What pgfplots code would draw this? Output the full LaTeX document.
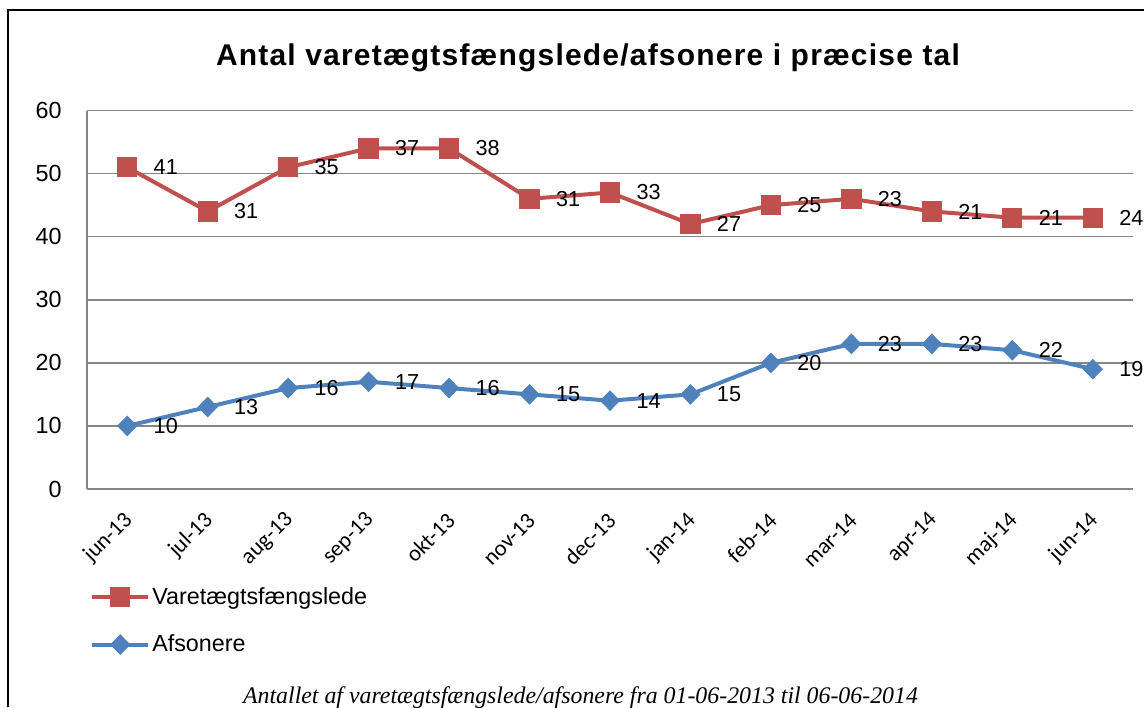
\documentclass[border=0pt]{standalone}
\usepackage{fontspec}
\setmainfont{Liberation Sans}
\newfontfamily\titlefont[LetterSpace=4.0]{Liberation Sans}
\newfontfamily\carlito{Carlito}
\newfontfamily\capfont{Liberation Serif}
\usepackage{pgfplots}
\usepackage{pgfplotstable}
\pgfplotsset{compat=1.18}
\definecolor{cred}{HTML}{C0504D}
\definecolor{cblue}{HTML}{4F81BD}
\definecolor{cgrid}{HTML}{868686}

% afs = Afsonere, vsum = stacked position (Afsonere + Varetaegtsfaengslede), vlbl = Varetaegtsfaengslede
\pgfplotstableread{
x afs vsum vlbl
0 10 51 41
1 13 44 31
2 16 51 35
3 17 54 37
4 16 54 38
5 15 46 31
6 14 47 33
7 15 42 27
8 20 45 25
9 23 46 23
10 23 44 21
11 22 43 21
12 19 43 24
}\data

\begin{document}
\begin{tikzpicture}[x=1pt,y=1pt]
\clip (0,0) rectangle (686.4,424.2);
\path[use as bounding box] (0,0) rectangle (686.4,424.2);
\draw[line width=1.2pt] (4.8,0) -- (4.8,418.2) -- (686.4,418.2);
\node[font=\titlefont\bfseries\fontsize{18}{20}\selectfont] at (352.8,389.5) {Antal varetægtsfængslede/afsonere i præcise tal};
\node[font=\capfont\itshape\fontsize{14.3}{16}\selectfont, anchor=base] at (348.3,2.4) {Antallet af varetægtsfængslede/afsonere fra 01-06-2013 til 06-06-2014};
\begin{axis}[
  at={(52.2pt,130.8pt)}, anchor=south west,
  scale only axis, width=627.6pt, height=227.1pt,
  xmin=-0.5, xmax=12.5, ymin=0, ymax=60,
  ytick={0,10,...,60}, xtick={0,...,12},
  xticklabels={jun-13,jul-13,aug-13,sep-13,okt-13,nov-13,dec-13,jan-14,feb-14,mar-14,apr-14,maj-14,jun-14},
  /pgf/number format/assume math mode=true,
  axis lines*=left,
  axis line style={cgrid, line width=0.9pt},
  ymajorgrids, grid style={cgrid, line width=0.9pt},
  major tick length=0pt, tick style={draw=none},
  yticklabel style={font=\fontsize{14}{16}\selectfont, inner sep=0pt, xshift=-15pt},
  xticklabel style={font=\carlito\fontsize{13.5}{15}\selectfont, inner sep=0pt, xshift=1.2pt, yshift=-16.6pt, rotate=45, anchor=east},
  clip=false,
  legend style={at={(0.0028,-0.2536)}, anchor=north west, draw=none, fill=none, inner sep=0pt,
    row sep=14.5pt, font=\fontsize{14}{16}\selectfont, nodes={inner sep=1.2pt}},
  legend cell align=left,
  legend image code/.code={\draw[#1, mark repeat=2, mark phase=2] plot coordinates {(0pt,0pt) (16.8pt,0pt) (33.6pt,0pt)};},
  nodes near coords,
  point meta=explicit symbolic,
  nodes near coords style={anchor=west, inner sep=0pt, xshift=15.6pt, text=black, font=\fontsize{13}{15}\selectfont},
]
\addplot[cred, line width=2.4pt, mark=square*, mark size=5.8pt, mark options={solid, line width=0.6pt}]
  table[x=x, y=vsum, meta=vlbl] {\data};
\addlegendentry{Varetægtsfængslede}
\addplot[cblue, line width=2.4pt, mark=diamond*, mark size=5.8pt, mark options={solid, line width=0.6pt, xscale=1.3}]
  table[x=x, y=afs, meta=afs] {\data};
\addlegendentry{Afsonere}
\end{axis}
\end{tikzpicture}
\end{document}
